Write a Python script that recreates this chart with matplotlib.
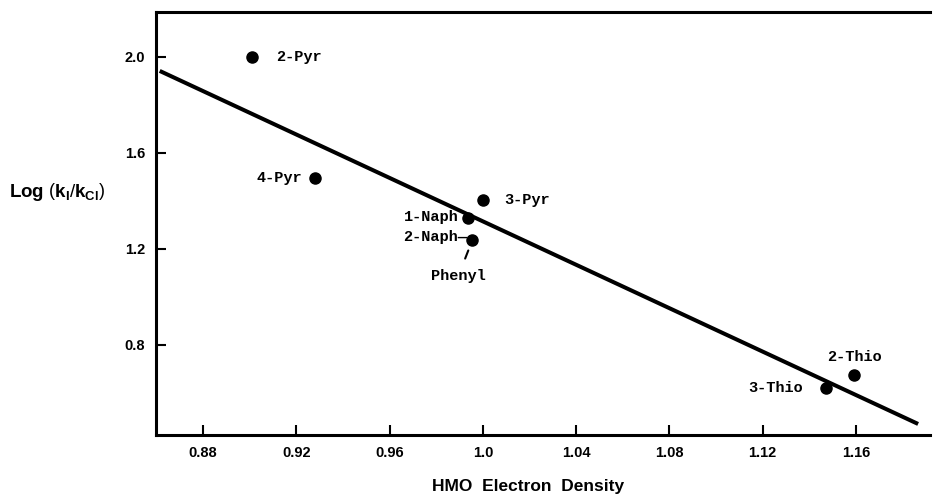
import numpy as np
import matplotlib.pyplot as plt

plt.rcParams['font.family'] = ['Liberation Sans', 'DejaVu Sans']
plt.rcParams['mathtext.fontset'] = 'custom'
plt.rcParams['mathtext.bf'] = 'Liberation Sans:bold'
plt.rcParams['mathtext.rm'] = 'Liberation Sans'

#%% data

names = ['2-Pyr', '4-Pyr', '3-Pyr', '1-Naph', '2-Naph', '3-Thio', '2-Thio']
density = [0.901, 0.928, 1.000, 0.9935, 0.9955, 1.147, 1.159]
log_ratio = [2.00, 1.497, 1.405, 1.330, 1.237, 0.622, 0.676]

fit_x = [0.8615, 1.1866]
fit_y = [1.942, 0.471]

xticks = [0.88, 0.92, 0.96, 1.04, 1.08, 1.12, 1.16]
xtick_labels = ['0.88', '0.92', '0.96', '1.04', '1.08', '1.12', '1.16']
yticks = [0.8, 1.2, 1.6, 2.0]

# label offsets in pixels (dx, dy, ha)
label_pos = {
    '2-Pyr': (24, 0, 'left'),
    '4-Pyr': (-13, 0, 'right'),
    '3-Pyr': (21, 0, 'left'),
    '1-Naph': (-9, 1, 'right'),
    '2-Naph': (-5, 3, 'right'),
    '3-Thio': (-23, 0, 'right'),
    '2-Thio': (1, 18, 'center'),
}

#%% plot

fig = plt.figure(figsize=(9.35, 4.99), dpi=100)
ax = fig.add_axes([156/935, 1 - 435/499, (930 - 156)/935, (435 - 12)/499])

ax.plot(fit_x, fit_y, color='k', lw=2.9, solid_capstyle='butt')
ax.plot(density, log_ratio, 'o', color='k', ms=8)

mono = dict(family='Liberation Mono', fontsize=11, fontweight='bold')
for n, x, y in zip(names, density, log_ratio):
    dx, dy, ha = label_pos[n]
    txt = n + '\u2014' if n == '2-Naph' else n
    ax.annotate(txt, (x, y), xytext=(dx, dy), textcoords='offset pixels',
                ha=ha, va='center', **mono)

# Phenyl shares the 2-Naph point
ax.annotate('Phenyl', (density[4], log_ratio[4]), xytext=(-14, -36),
            textcoords='offset pixels', ha='center', va='center',
            arrowprops=dict(arrowstyle='-', color='k', lw=1.5,
                            shrinkA=6, shrinkB=8), **mono)

ax.set_xlim(0.8599, 1.1917)
ax.set_ylim(0.425, 2.1875)

ax.set_xticks(xticks + [1.0])
ax.set_xticklabels(xtick_labels + ['1.0'])
ax.set_yticks(yticks)
ax.set_yticklabels(['0.8', '1.2', '1.6', '2.0'])
ax.tick_params(direction='in', length=7, width=1.5, labelsize=10.5, pad=8)
for lab in ax.get_xticklabels() + ax.get_yticklabels():
    lab.set_fontweight('bold')

ax.spines['right'].set_visible(False)
for s in ['left', 'bottom', 'top']:
    ax.spines[s].set_linewidth(2.2)

fig.text(528/935, 1 - 487/499, 'HMO  Electron  Density', ha='center', va='center',
         fontsize=12.5, fontweight='bold')
fig.text(9/935, 1 - 192/499, r'Log $\left(\mathbf{k_I}/\mathbf{k_{Cl}}\right)$',
         ha='left', va='center', fontsize=13.5, fontweight='bold')

plt.savefig('out.png', dpi=100)
plt.close()
